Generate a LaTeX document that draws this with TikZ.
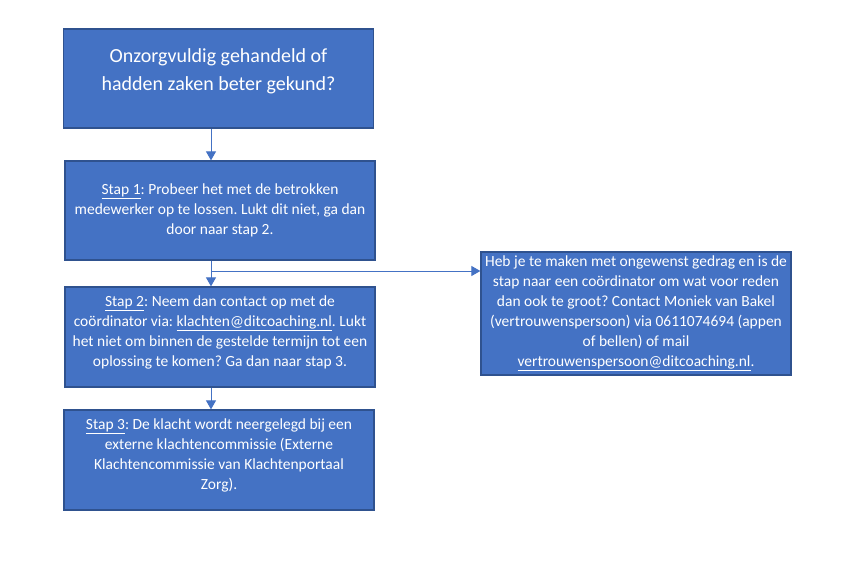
\documentclass[tikz,border=0pt]{standalone}
\usepackage{fontspec}
\setmainfont{Carlito}
\usetikzlibrary{arrows.meta}
\definecolor{boxblue}{HTML}{4472C4}
\definecolor{boxline}{HTML}{2F528F}
\frenchspacing
\begin{document}
\begin{tikzpicture}[x=1pt,y=-1pt,
		box/.style={draw=boxline, line width=1.3pt, fill=boxblue, text=white, align=center,
			minimum width=310pt, minimum height=99pt, inner sep=2pt, font=\fontsize{15.5}{20}\selectfont},
		flow/.style={draw=boxblue, line width=1pt, -{Triangle[width=10pt,length=9pt]}}]
		\fill [white] (0,0) rectangle (865,579);
		\node [box, font=\fontsize{20}{28}\selectfont] (frage) at (218.5,78.5) {Onzorgvuldig gehandeld of\\hadden zaken beter gekund?\\[-10pt]\mbox{}};
		\node [box] (stap1) at (220,210.5) {\underline{Stap 1}: Probeer het met de betrokken\\medewerker op te lossen. Lukt dit niet, ga dan\\door naar stap 2.};
		\node [box, minimum height=100pt] (stap2) at (220,337) {\underline{Stap 2}: Neem dan contact op met de\\coördinator via: \underline{klachten@ditcoaching.nl}. Lukt\\het niet om binnen de gestelde termijn tot een\\oplossing te komen? Ga dan naar stap 3.\\[-8pt]\mbox{}};
		\node [box, minimum height=100pt] (stap3) at (219,460) {\underline{Stap 3}: De klacht wordt neergelegd bij een\\externe klachtencommissie (Externe\\Klachtencommissie van Klachtenportaal\\Zorg).\\[-8pt]\mbox{}};
		\node [box, minimum height=123pt] (vertrouw) at (636,313.5) {Heb je te maken met ongewenst gedrag en is de\\stap naar een coördinator om wat voor reden\\dan ook te groot? Contact Moniek van Bakel\\(vertrouwenspersoon) via 0611074694 (appen\\of bellen) of mail\\\underline{vertrouwenspersoon@ditcoaching.nl}.};
		\draw [flow] ([xshift=-7.5pt]frage.south) -- ([xshift=-7.5pt]frage.south |- stap1.north);
		\draw [flow] ([xshift=-9pt]stap1.south) -- ([xshift=-9pt]stap1.south |- stap2.north);
		\coordinate (split) at (211,271);
		\draw [flow] (split) -- (split -| vertrouw.west);
		\draw [flow] ([xshift=-9pt]stap2.south) -- ([xshift=-9pt]stap2.south |- stap3.north);
\end{tikzpicture}
\end{document}
